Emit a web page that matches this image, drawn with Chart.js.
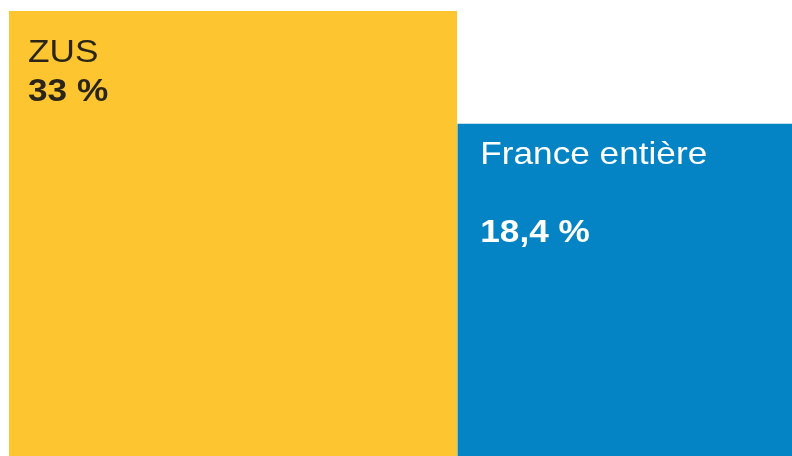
<!DOCTYPE html>
<html>
<head>
<meta charset="utf-8">
<script src="https://cdn.jsdelivr.net/npm/chart.js@4.4.1/dist/chart.umd.min.js"></script>
<style>
  html, body { margin: 0; padding: 0; background: #ffffff; }
  #wrap { width: 792px; height: 456px; }
</style>
</head>
<body>
<div id="wrap"><canvas id="squares"></canvas></div>
<script>
// Share of population, shown as squares whose area follows the value
const categories = ['ZUS', 'France entière'];
const values = [33, 18.4];
const valueLabels = ['33 %', '18,4 %'];
const colors = ['#fdc52f', '#0484c4'];
const textColors = ['#2a2518', '#ffffff'];

// side of each square = sqrt(value), squares placed side by side
const sides = values.map(v => Math.sqrt(v));
const starts = sides.map((s, i) => sides.slice(0, i).reduce((a, b) => a + b, 0));

const datasets = categories.map((name, i) => ({
    label: name,
    data: [
        { x: starts[i], y: sides[i] },
        { x: starts[i] + sides[i], y: sides[i] }
    ],
    backgroundColor: colors[i],
    borderWidth: 0,
    pointRadius: 0,
    fill: 'origin',
    tension: 0
}));

// the original text is a bit wider than plain Arial
function wideText(ctx, text, x, y, font) {
    ctx.save();
    ctx.font = font;
    ctx.translate(x, y);
    ctx.scale(1.1, 1);
    ctx.fillText(text, 0, 0);
    ctx.restore();
}

// writes the category name and value at the top left of each square
const squareLabels = {
    id: 'squareLabels',
    afterDatasetsDraw(chart) {
        const { ctx, scales: { x, y } } = chart;
        const normal = '32px "Liberation Sans", Arial, sans-serif';
        const bold = 'bold 32px "Liberation Sans", Arial, sans-serif';
        ctx.save();
        ctx.textAlign = 'left';
        ctx.textBaseline = 'alphabetic';
        categories.forEach((name, i) => {
            const left = x.getPixelForValue(starts[i]);
            const top = y.getPixelForValue(sides[i]);
            ctx.fillStyle = textColors[i];
            if (i === 0) {
                wideText(ctx, name, left + 19, top + 51, normal);
                wideText(ctx, valueLabels[i], left + 19, top + 90, bold);
            } else {
                wideText(ctx, name, left + 23, top + 40, normal);
                wideText(ctx, valueLabels[i], left + 23, top + 118, bold);
            }
        });
        ctx.restore();
    }
};

new Chart(document.getElementById('squares'), {
    type: 'line',
    data: { datasets },
    options: {
        responsive: true,
        maintainAspectRatio: false,
        animation: false,
        layout: { padding: { left: 9, top: 11, right: 0, bottom: 0 } },
        plugins: {
            legend: { display: false },
            tooltip: { enabled: false }
        },
        scales: {
            x: { type: 'linear', display: false, min: 0, max: starts[1] + sides[1] },
            y: { display: false, min: 0, max: sides[0] }
        }
    },
    plugins: [squareLabels]
});
</script>
</body>
</html>
